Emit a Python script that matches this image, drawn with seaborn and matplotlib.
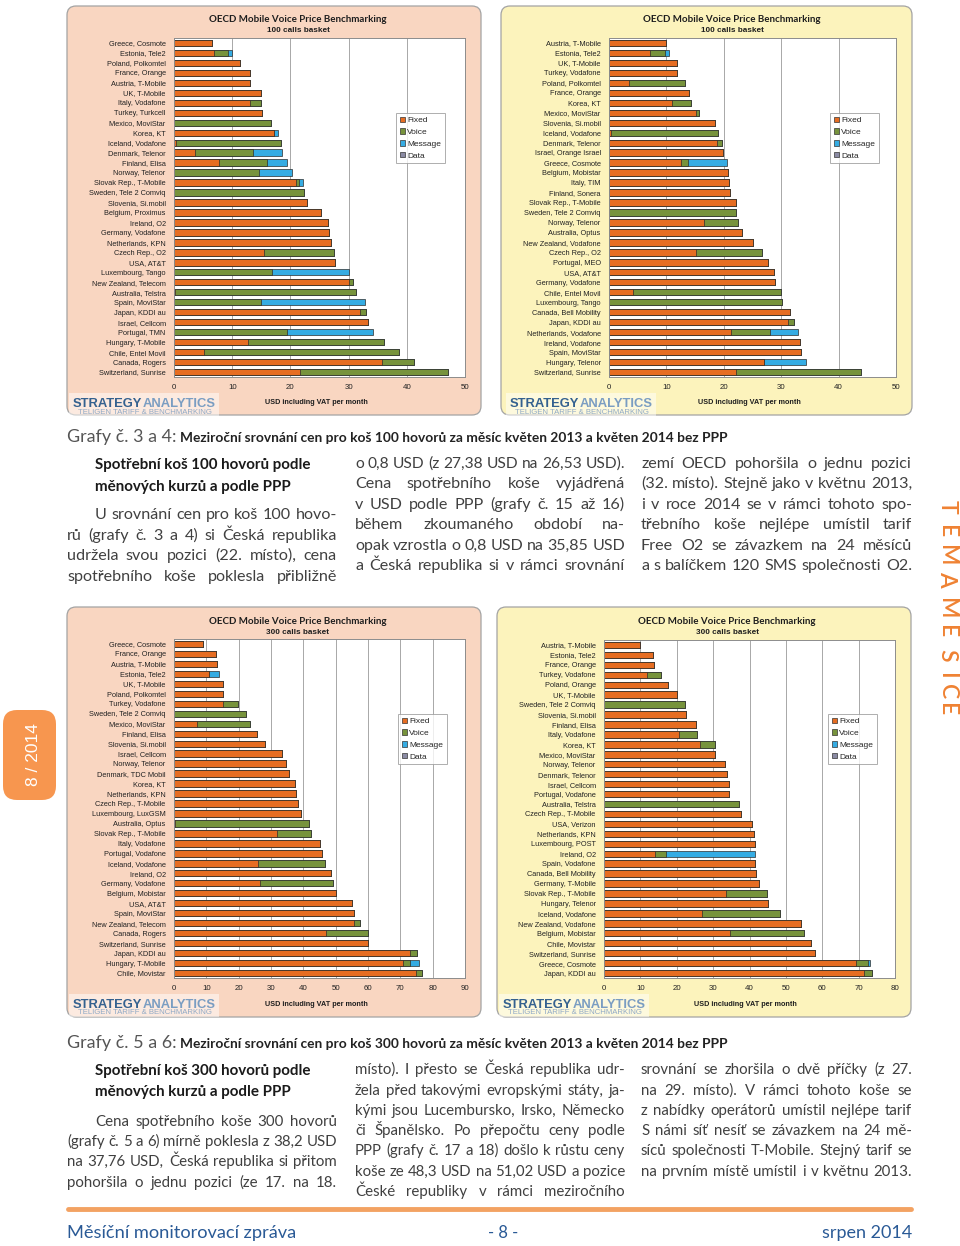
import matplotlib
matplotlib.use('Agg')

import matplotlib.pyplot as plt
from matplotlib.patches import FancyBboxPatch, Rectangle, Patch
from matplotlib import font_manager
import seaborn as sns
import pandas as pd

# ---- chart data (USD incl. VAT per month) ----
labels_100_2013 = ['Greece, Cosmote', 'Estonia, Tele2', 'Poland, Polkomtel', 'France, Orange',
                   'Austria, T-Mobile', 'UK, T-Mobile', 'Italy, Vodafone', 'Turkey, Turkcell',
                   'Mexico, MoviStar', 'Korea, KT', 'Iceland, Vodafone', 'Denmark, Telenor',
                   'Finland, Elisa', 'Norway, Telenor', 'Slovak Rep., T-Mobile', 'Sweden, Tele 2 Comviq',
                   'Slovenia, Si.mobil', 'Belgium, Proximus', 'Ireland, O2', 'Germany, Vodafone',
                   'Netherlands, KPN', 'Czech Rep., O2', 'USA, AT&T', 'Luxembourg, Tango',
                   'New Zealand, Telecom', 'Australia, Telstra', 'Spain, MoviStar', 'Japan, KDDI au',
                   'Israel, Cellcom', 'Portugal, TMN', 'Hungary, T-Mobile', 'Chile, Entel Movil',
                   'Canada, Rogers', 'Switzerland, Sunrise']
fixed_100_2013 = [6.6, 6.9, 11.3, 13.0, 13.1, 15.0, 13.0, 15.2, 0, 17.2,
                  0.3, 3.6, 7.8, 0, 21.0, 0, 22.8, 25.3, 26.4, 26.7,
                  27.0, 15.5, 27.6, 0, 30.1, 0.1, 0, 31.9, 33.4, 0,
                  12.7, 5.2, 35.8, 21.7]
voice_100_2013 = [0, 2.4, 0, 0, 0, 0, 2.0, 0, 16.6, 0,
                  18.0, 10.0, 8.1, 14.6, 0.5, 22.3, 0, 0, 0, 0,
                  0, 12.0, 0, 16.9, 0.6, 31.2, 15.0, 1.1, 0, 19.5,
                  23.4, 33.5, 5.4, 25.3]
message_100_2013 = [0, 0.6, 0, 0, 0, 0, 0, 0, 0, 0.7,
                    0, 4.9, 3.6, 5.7, 0.6, 0, 0, 0, 0, 0,
                    0, 0, 0, 13.2, 0, 0, 17.8, 0, 0, 14.7,
                    0, 0, 0, 0]

labels_100_2014 = ['Austria, T-Mobile', 'Estonia, Tele2', 'UK, T-Mobile', 'Turkey, Vodafone',
                   'Poland, Polkomtel', 'France, Orange', 'Korea, KT', 'Mexico, MoviStar',
                   'Slovenia, Si.mobil', 'Iceland, Vodafone', 'Denmark, Telenor', 'Israel, Orange Israel',
                   'Greece, Cosmote', 'Belgium, Mobistar', 'Italy, TIM', 'Finland, Sonera',
                   'Slovak Rep., T-Mobile', 'Sweden, Tele 2 Comviq', 'Norway, Telenor', 'Australia, Optus',
                   'New Zealand, Vodafone', 'Czech Rep., O2', 'Portugal, MEO', 'USA, AT&T',
                   'Germany, Vodafone', 'Chile, Entel Movil', 'Luxembourg, Tango', 'Canada, Bell Mobility',
                   'Japan, KDDI au', 'Netherlands, Vodafone', 'Ireland, Vodafone', 'Spain, MoviStar',
                   'Hungary, Telenor', 'Switzerland, Sunrise']
fixed_100_2014 = [9.9, 7.2, 11.8, 11.8, 3.4, 13.9, 11.0, 15.2, 18.5, 0.3,
                  18.8, 19.9, 12.6, 20.8, 20.9, 21.0, 22.2, 0, 16.6, 23.2,
                  25.0, 15.2, 27.7, 28.7, 28.9, 4.2, 0, 31.5, 31.2, 21.3,
                  33.2, 33.5, 27.0, 22.2]
voice_100_2014 = [0, 2.6, 0, 0, 9.8, 0, 3.3, 0.4, 0, 18.7,
                  0.9, 0, 1.2, 0, 0, 0, 0, 22.2, 5.9, 0,
                  0, 11.4, 0, 0, 0, 25.8, 30.2, 0, 1.1, 6.7,
                  0, 0, 0, 21.7]
message_100_2014 = [0, 0.6, 0, 0, 0, 0, 0, 0, 0, 0,
                    0, 0, 6.7, 0, 0, 0, 0, 0, 0, 0,
                    0, 0, 0, 0, 0, 0, 0, 0, 0, 4.9,
                    0, 0, 7.3, 0]

labels_300_2013 = ['Greece, Cosmote', 'France, Orange', 'Austria, T-Mobile', 'Estonia, Tele2',
                   'UK, T-Mobile', 'Poland, Polkomtel', 'Turkey, Vodafone', 'Sweden, Tele 2 Comviq',
                   'Mexico, MoviStar', 'Finland, Elisa', 'Slovenia, Si.mobil', 'Israel, Cellcom',
                   'Norway, Telenor', 'Denmark, TDC Mobil', 'Korea, KT', 'Netherlands, KPN',
                   'Czech Rep., T-Mobile', 'Luxembourg, LuxGSM', 'Australia, Optus', 'Slovak Rep., T-Mobile',
                   'Italy, Vodafone', 'Portugal, Vodafone', 'Iceland, Vodafone', 'Ireland, O2',
                   'Germany, Vodafone', 'Belgium, Mobistar', 'USA, AT&T', 'Spain, MoviStar',
                   'New Zealand, Telecom', 'Canada, Rogers', 'Switzerland, Sunrise', 'Japan, KDDI au',
                   'Hungary, T-Mobile', 'Chile, Movistar']
fixed_300_2013 = [9.1, 13.1, 13.2, 10.7, 15.0, 15.3, 15.1, 0, 7.2, 25.6,
                  28.2, 33.3, 34.5, 35.6, 37.3, 37.6, 38.2, 39.4, 0.2, 31.9,
                  45.0, 45.9, 26.1, 48.7, 26.6, 50.0, 55.2, 55.7, 55.7, 47.0,
                  60.1, 73.1, 70.9, 74.8]
voice_300_2013 = [0, 0, 0, 0, 0, 0, 4.8, 22.4, 16.4, 0,
                  0, 0, 0, 0, 0, 0, 0, 0, 41.5, 10.6,
                  0, 0, 20.6, 0, 22.5, 0, 0, 0, 1.7, 12.9,
                  0, 2.0, 2.1, 1.9]
message_300_2013 = [0, 0, 0, 3.1, 0, 0, 0, 0, 0, 0,
                    0, 0, 0, 0, 0, 0, 0, 0, 0, 0,
                    0, 0, 0, 0, 0, 0, 0, 0, 0, 0,
                    0, 0, 2.9, 0]

labels_300_2014 = ['Austria, T-Mobile', 'Estonia, Tele2', 'France, Orange', 'Turkey, Vodafone',
                   'Poland, Orange', 'UK, T-Mobile', 'Sweden, Tele 2 Comviq', 'Slovenia, Si.mobil',
                   'Finland, Elisa', 'Italy, Vodafone', 'Korea, KT', 'Mexico, MoviStar',
                   'Norway, Telenor', 'Denmark, Telenor', 'Israel, Cellcom', 'Portugal, Vodafone',
                   'Australia, Telstra', 'Czech Rep., T-Mobile', 'USA, Verizon', 'Netherlands, KPN',
                   'Luxembourg, POST', 'Ireland, O2', 'Spain, Vodafone', 'Canada, Bell Mobility',
                   'Germany, T-Mobile', 'Slovak Rep., T-Mobile', 'Hungary, Telenor', 'Iceland, Vodafone',
                   'New Zealand, Vodafone', 'Belgium, Mobistar', 'Chile, Movistar', 'Switzerland, Sunrise',
                   'Greece, Cosmote', 'Japan, KDDI au']
fixed_300_2014 = [9.9, 13.4, 13.8, 11.9, 17.5, 20.2, 0, 22.6, 25.2, 20.7,
                  26.4, 30.4, 33.3, 33.7, 34.4, 34.4, 0, 37.8, 40.7, 41.1,
                  41.4, 13.9, 41.4, 41.9, 42.6, 33.6, 45.0, 27.0, 54.2, 34.7,
                  57.0, 58.0, 69.4, 71.5]
voice_300_2014 = [0, 0, 0, 3.9, 0, 0, 22.2, 0, 0, 4.8,
                  4.0, 0, 0, 0, 0, 0, 37.2, 0, 0, 0,
                  0, 3.1, 0, 0, 0, 11.1, 0, 21.4, 0, 20.3,
                  0, 0, 3.1, 2.2]
message_300_2014 = [0, 0, 0, 0, 0, 0, 0, 0, 0, 0,
                    0, 0, 0, 0, 0, 0, 0, 0, 0, 0,
                    0, 24.4, 0, 0, 0, 0, 0, 0, 0, 0,
                    0, 0, 0.7, 0]

legend_names = ['Fixed', 'Voice', 'Message', 'Data']

# ---- style ----
W, H = 960, 1246
C_FIXED = '#E66D22'
C_VOICE = '#77933C'
C_MSG = '#35ACE3'
C_DATA = '#8A8AA3'
C_EDGE = '#2d2d2d'
PEACH = '#F9D6C1'
YELLOW = '#FCF3BC'
ORANGE = '#EF8233'
BLUE_TXT = '#2A5A96'
TXT = '#404040'

sns.set_style('white')
plt.rcParams['font.family'] = ['Lato', 'DejaVu Sans']

names = {f.name for f in font_manager.fontManager.ttflist}
NARROW = 'Liberation Sans Narrow' if 'Liberation Sans Narrow' in names else 'Lato'
BODY = ['Lato', 'DejaVu Sans']
COND = [NARROW, 'DejaVu Sans']
ARIAL = ['Liberation Sans', 'DejaVu Sans']

fig = plt.figure(figsize=(9.6, 12.46), dpi=100)
bg = fig.add_axes([0, 0, 1, 1])
bg.set_xlim(0, W)
bg.set_ylim(H, 0)
bg.axis('off')
R = fig.canvas.get_renderer()


def width_of(t):
    return t.get_window_extent(R).width


def fit(x, y, s, width, size0=10, **kw):
    t = bg.text(x, y, s, fontsize=size0, **kw)
    t.set_fontsize(size0 * width / width_of(t))
    return t


def body_line(x0, x1, y, s, size=10.8, justify=True, color=TXT, family=BODY, weight='normal'):
    words = s.split(' ')
    ts = [bg.text(x0, y, w, fontsize=size, color=color, family=family, weight=weight,
                  va='baseline', ha='left') for w in words]
    ws = [width_of(t) for t in ts]
    sp = size * 100 / 72 * 0.25
    target = x1 - x0
    nat = sum(ws) + sp * (len(ws) - 1)
    if nat > target:
        k = target / nat
        for t in ts:
            t.set_fontsize(size * k)
        ws = [w * k for w in ws]
        sp *= k
    if justify and len(ws) > 1:
        gap = (target - sum(ws)) / (len(ws) - 1)
    else:
        gap = sp
    x = x0
    for t, w in zip(ts, ws):
        t.set_x(x)
        x += w + gap


def panel(x0, y0, x1, y1, color):
    bg.add_patch(FancyBboxPatch((x0, y0), x1 - x0, y1 - y0,
                                boxstyle='round,pad=0,rounding_size=9',
                                fc=color, ec='#a3a3a3', lw=0.9))


def logo(x, y):
    bg.add_patch(Rectangle((x - 4, y - 14), 150, 23, fc='white', alpha=0.5, ec='none'))
    t1 = bg.text(x, y, 'STRATEGY', fontsize=10, weight='bold', color='#34618F',
                 family=ARIAL, va='baseline')
    t2 = bg.text(x, y, 'ANALYTICS', fontsize=10, weight='bold', color='#7A9DC2',
                 family=ARIAL, va='baseline')
    w1, w2 = width_of(t1), width_of(t2)
    k = 142 / (w1 + w2)
    t1.set_fontsize(10 * k)
    t2.set_fontsize(10 * k)
    t2.set_x(x + w1 * k)
    fit(x + 5, y + 5, 'TELIGEN TARIFF & BENCHMARKING', 134, size0=4, color='#8FA9C6',
        family=ARIAL, va='center')


def chart(plot, labels, fixed, voice, message, xmax, title_c, title_y, sub, legend_xy, xlabel_xy):
    l, t, r, b = plot
    ax = fig.add_axes([l / W, 1 - b / H, (r - l) / W, (b - t) / H])
    fv = [f + v for f, v in zip(fixed, voice)]
    tot = [a + m for a, m in zip(fv, message)]
    df = pd.DataFrame({'op': labels, 'fixed': fixed, 'fv': fv, 'tot': tot})
    for col, c in (('tot', C_MSG), ('fv', C_VOICE), ('fixed', C_FIXED)):
        sns.barplot(data=df, x=col, y='op', order=labels, orient='h', color=c, saturation=1,
                    edgecolor=C_EDGE, linewidth=0.5, width=0.64, errorbar=None, ax=ax)
    ax.set_xlim(0, xmax)
    ax.set_xticks(range(0, xmax + 1, 10))
    ax.set_xlabel('')
    ax.set_ylabel('')
    ax.set_facecolor('white')
    ax.grid(axis='x', color='#a8a8a8', lw=0.7)
    ax.set_axisbelow(True)
    for s in ax.spines.values():
        s.set_color('#8c8c8c')
        s.set_linewidth(0.7)
    ax.tick_params(axis='x', labelsize=5.7, length=2, pad=3, colors='#222222', width=0.5)
    ax.tick_params(axis='y', labelsize=5.3, length=0, pad=6, colors='#222222')
    for lab in ax.get_xticklabels() + ax.get_yticklabels():
        lab.set_family(ARIAL)
    handles = [Patch(facecolor=c, edgecolor='#333333', linewidth=0.5, label=n)
               for c, n in zip((C_FIXED, C_VOICE, C_MSG, C_DATA), legend_names)]
    leg = ax.legend(handles=handles, loc='upper left',
                    bbox_to_anchor=(legend_xy[0] / W, 1 - legend_xy[1] / H),
                    bbox_transform=fig.transFigure, prop={'family': ARIAL, 'size': 6.0},
                    handlelength=0.6, handleheight=0.6, handletextpad=0.3,
                    labelspacing=0.5, borderpad=0.45, borderaxespad=0,
                    frameon=True, fancybox=False)
    leg.get_frame().set_edgecolor('#9a9a9a')
    leg.get_frame().set_linewidth(0.7)
    fit(title_c, title_y, 'OECD Mobile Voice Price Benchmarking', 178, weight='bold',
        color='#1e1e1e', family=BODY, ha='center', va='center')
    fit(title_c, title_y + 11, sub, 62, weight='bold', color='#1e1e1e', family=ARIAL,
        ha='center', va='center')
    fit(xlabel_xy[0], xlabel_xy[1], 'USD including VAT per month', 102, weight='bold',
        color='#1e1e1e', family=ARIAL, ha='center', va='center')


# ---- chart panels ----
panel(67, 6, 481, 415, PEACH)
panel(501, 6, 912, 415, YELLOW)
panel(67, 607, 481, 1017, PEACH)
panel(497, 607, 911, 1017, YELLOW)

chart((174, 38, 465, 377), labels_100_2013, fixed_100_2013, voice_100_2013, message_100_2013,
      50, 298, 19, '100 calls basket', (396, 113), (316, 403))
chart((609, 38, 896, 377), labels_100_2014, fixed_100_2014, voice_100_2014, message_100_2014,
      50, 732, 19, '100 calls basket', (830, 113), (749, 403))
chart((174, 639, 465, 978), labels_300_2013, fixed_300_2013, voice_300_2013, message_300_2013,
      90, 298, 621, '300 calls basket', (398, 714), (316, 1005))
chart((604, 640, 895, 978), labels_300_2014, fixed_300_2014, voice_300_2014, message_300_2014,
      80, 727, 621, '300 calls basket', (828, 714), (745, 1005))

logo(73, 407)
logo(510, 407)
logo(73, 1008)
logo(503, 1008)

# ---- captions ----
for yb, pre, main in ((442, 'Grafy č. 3 a 4:',
                       'Meziroční srovnání cen pro koš 100 hovorů za měsíc květen 2013 a květen 2014 bez PPP'),
                      (1048, 'Grafy č. 5 a 6:',
                       'Meziroční srovnání cen pro koš 300 hovorů za měsíc květen 2013 a květen 2014 bez PPP')):
    fit(67, yb, pre, 109, color='#555555', family=BODY, va='baseline')
    fit(180, yb, main, 549, weight='bold', color='#222222', family=COND, va='baseline')

# ---- body text, section 1 ----
h1 = fit(95, 469, 'Spotřební koš 100 hovorů podle', 217, weight='bold', color='#1a1a1a',
         family=COND, va='baseline')
bg.text(95, 491, 'měnových kurzů a podle PPP', fontsize=h1.get_fontsize(), weight='bold',
        color='#1a1a1a', family=COND, va='baseline')

sec1_col1 = [('U srovnání cen pro koš 100 hovo-', 95, 519),
             ('rů (grafy č. 3 a 4) si Česká republika', 67, 540),
             ('udržela svou pozici (22. místo), cena', 67, 560),
             ('spotřebního koše poklesla přibližně', 67, 581)]
for s, x0, yb in sec1_col1:
    body_line(x0, 337, yb, s, size=11.6)

sec1_col2 = ['o 0,8 USD (z 27,38 USD na 26,53 USD).',
             'Cena spotřebního koše vyjádřená',
             'v USD podle PPP (grafy č. 15 až 16)',
             'během zkoumaného období na-',
             'opak vzrostla o 0,8 USD na 35,85 USD',
             'a Česká republika si v rámci srovnání']
sec1_col3 = ['zemí OECD pohoršila o jednu pozici',
             '(32. místo). Stejně jako v květnu 2013,',
             'i v roce 2014 se v rámci tohoto spo-',
             'třebního koše nejlépe umístil tarif',
             'Free O2 se závazkem na 24 měsíců',
             'a s balíčkem 120 SMS společnosti O2.']
sec1_y = [468, 488, 509, 529, 550, 570]
for s, yb in zip(sec1_col2, sec1_y):
    body_line(355, 625, yb, s, size=11.6)
for s, yb in zip(sec1_col3, sec1_y):
    body_line(641, 912, yb, s, size=11.6)

# ---- body text, section 2 ----
h2 = fit(95, 1075, 'Spotřební koš 300 hovorů podle', 217, weight='bold', color='#1a1a1a',
         family=COND, va='baseline')
bg.text(95, 1096, 'měnových kurzů a podle PPP', fontsize=h2.get_fontsize(), weight='bold',
        color='#1a1a1a', family=COND, va='baseline')

sec2_col1 = [('Cena spotřebního koše 300 hovorů', 95, 1126),
             ('(grafy č. 5 a 6) mírně poklesla z 38,2 USD', 67, 1146),
             ('na 37,76 USD, Česká republika si přitom', 67, 1166),
             ('pohoršila o jednu pozici (ze 17. na 18.', 67, 1187)]
for s, x0, yb in sec2_col1:
    body_line(x0, 337, yb, s, family=COND)

sec2_col2 = ['místo). I přesto se Česká republika udr-',
             'žela před takovými evropskými státy, ja-',
             'kými jsou Lucembursko, Irsko, Německo',
             'či Španělsko. Po přepočtu ceny podle',
             'PPP (grafy č. 17 a 18) došlo k růstu ceny',
             'koše ze 48,3 USD na 51,02 USD a pozice',
             'České republiky v rámci meziročního']
sec2_col3 = ['srovnání se zhoršila o dvě příčky (z 27.',
             'na 29. místo). V rámci tohoto koše se',
             'z nabídky operátorů umístil nejlépe tarif',
             'S námi síť nesíť se závazkem na 24 mě-',
             'síců společnosti T-Mobile. Stejný tarif se',
             'na prvním místě umístil i v květnu 2013.']
sec2_y = [1074, 1095, 1115, 1135, 1155, 1176, 1196]
for s, yb in zip(sec2_col2, sec2_y):
    body_line(355, 625, yb, s, family=COND)
for s, yb in zip(sec2_col3, sec2_y):
    body_line(641, 912, yb, s, family=COND)

# ---- side decorations ----
bg.add_patch(FancyBboxPatch((3, 710), 53, 90, boxstyle='round,pad=0,rounding_size=14',
                            fc='#F7964F', ec='none'))
bg.text(33, 755, '8 / 2014', fontsize=12.5, color='white', rotation=90,
        ha='center', va='center', family=ARIAL)
letters = ['T', 'É', 'M', 'A', 'M', 'Ě', 'S', 'Í', 'C', 'E']
letter_y = [507, 532, 556, 579, 609, 632, 655, 675, 692, 710]
for ch, yy in zip(letters, letter_y):
    bg.text(947, yy, ch, fontsize=16.5, color=ORANGE, rotation=270, ha='center', va='center',
            family=BODY, weight='semibold')

# ---- footer ----
bg.plot([68, 911], [1209, 1209], color='#F3A262', lw=3.5, solid_capstyle='round')
fit(67, 1238, 'Měsíční monitorovací zpráva', 230, color=BLUE_TXT, family=BODY, va='baseline')
fit(503, 1238, '- 8 -', 30, color=BLUE_TXT, family=BODY, va='baseline', ha='center')
fit(912, 1238, 'srpen 2014', 91, color=BLUE_TXT, family=BODY, va='baseline', ha='right')

fig.savefig('out.png', dpi=100)
plt.close(fig)
